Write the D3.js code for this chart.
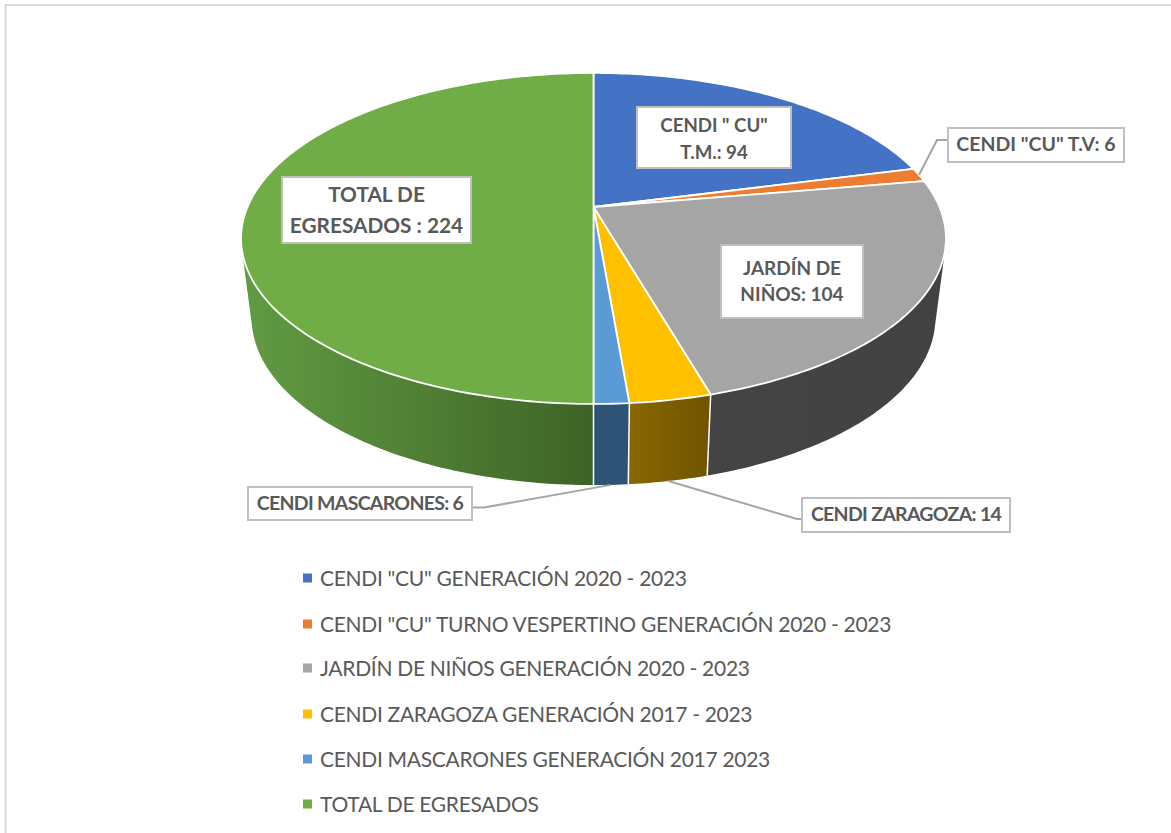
<!DOCTYPE html>
<html>
<head>
<meta charset="utf-8">
<script src="https://cdn.jsdelivr.net/npm/d3@7"></script>
<style>
    html, body { margin: 0; padding: 0; background: #fff; }
    svg { display: block; }
    text { font-family: Lato, "Open Sans", sans-serif; fill: #595959; }
    .label { font-weight: 700; text-anchor: middle; }
    .legend { font-size: 21px; letter-spacing: -0.3px; }
</style>
</head>
<body>
<svg id="chart" width="1171" height="833"></svg>
<script>

// Data /////////////////////////////////////////

const seriesNames = [
    'CENDI "CU" GENERACIÓN 2020 - 2023',
    'CENDI "CU" TURNO VESPERTINO GENERACIÓN 2020 - 2023',
    "JARDÍN DE NIÑOS GENERACIÓN 2020 - 2023",
    "CENDI ZARAGOZA GENERACIÓN 2017 - 2023",
    "CENDI MASCARONES GENERACIÓN 2017 2023",
    "TOTAL DE EGRESADOS"
];
const values = [94, 6, 104, 14, 6, 224];
const labelNames = [
    ['CENDI " CU"', "T.M.: "],
    ['CENDI "CU" T.V: '],
    ["JARDÍN DE", "NIÑOS: "],
    ["CENDI ZARAGOZA: "],
    ["CENDI MASCARONES: "],
    ["TOTAL DE", "EGRESADOS : "]
];

// Styles and layout ////////////////////////////

const topColors = ["#4472c4", "#ed7d31", "#a5a5a5", "#ffc000", "#5b9bd5", "#70ad47"];
const wallStart = ["#294474", "#8e4b1d", "#444444", "#8a6800", "#2f5375", "#609a42"];
const wallEnd = ["#294474", "#8e4b1d", "#424242", "#705400", "#2f5375", "#3e6326"];

const labelBoxes = [
    { x: 637, y: 107, w: 154, h: 61, gap: 27, size: 18.7, spacing: 0, nudge: 2 },
    { x: 948, y: 128, w: 176, h: 34, gap: 0, size: 19.5, spacing: 0, nudge: 0 },
    { x: 721, y: 245, w: 142, h: 73, gap: 26, size: 19, spacing: 0, nudge: 0 },
    { x: 802, y: 498, w: 208, h: 34, gap: 0, size: 19.5, spacing: -0.7, nudge: 0 },
    { x: 248, y: 487, w: 224, h: 33, gap: 0, size: 19.5, spacing: -0.7, nudge: 0 },
    { x: 282, y: 177, w: 189, h: 66, gap: 31, size: 20.8, spacing: 0, nudge: 1 }
];
// index of slice -> side of the box the leader leaves from, and which rim it touches
const leaders = [
    { slice: 1, elbowX: 937, side: "left", rim: "top" },
    { slice: 3, elbowX: 797, side: "left", rim: "bottom" },
    { slice: 4, elbowX: 484, side: "right", rim: "bottom" }
];

const legendY = [578, 624, 668, 714, 759, 804];

// Pie in perspective ///////////////////////////

const cx = 593.5;
const persp = { a: 346, b: 120.2, c: 207, k: -0.19 };
const rim = { sx: 0.97, sy: 1.01, midTop: 238.5, midBottom: 318 };

function projectTop(angle) {
    const u = Math.sin(angle), v = -Math.cos(angle);
    const w = 1 + persp.k * v;
    return [cx + persp.a * u / w, (persp.b * v + persp.c) / w];
}

function projectBottom(angle) {
    const [x, y] = projectTop(angle);
    return [cx + (x - cx) * rim.sx, rim.midBottom + (y - rim.midTop) * rim.sy];
}

function sampleArc(d, project) {
    const n = Math.max(2, Math.ceil((d.endAngle - d.startAngle) * 60));
    return d3.range(n + 1).map(i => project(d.startAngle + (d.endAngle - d.startAngle) * i / n));
}

const svg = d3.select("#chart");
const defs = svg.append("defs");
const line = d3.line();

const arcs = d3.pie().sort(null)(values);

// Frame ////////////////////////////////////////

svg.append("path")
    .attr("d", "M5.5,833V5H1171")
    .attr("fill", "none")
    .attr("stroke", "#d9d9d9")
    .attr("stroke-width", 2);

// Walls ////////////////////////////////////////

arcs.forEach((d, i) => {
    const pts = sampleArc(d, projectBottom);
    const x0 = d3.min(pts, p => p[0]), x1 = d3.max(pts, p => p[0]);
    const grad = defs.append("linearGradient")
        .attr("id", "wall" + i)
        .attr("gradientUnits", "userSpaceOnUse")
        .attr("x1", x0).attr("x2", x1)
        .attr("y1", 0).attr("y2", 0);
    grad.append("stop").attr("offset", 0).attr("stop-color", wallStart[i]);
    grad.append("stop").attr("offset", 1).attr("stop-color", wallEnd[i]);
});

// a wall is one path of small quads, all wound the same way so overlaps at the
// sides don't cancel and the silhouette stays straight
function wallPath(d) {
    const a = sampleArc(d, projectTop), b = sampleArc(d, projectBottom);
    return d3.range(a.length - 1).map(j => {
        const q = [a[j], a[j + 1], b[j + 1], b[j]];
        if (d3.polygonArea(q) < 0) q.reverse();
        return line(q) + "Z";
    }).join("");
}

svg.append("g").selectAll("path")
    .data(arcs)
    .join("path")
    .attr("d", wallPath)
    .attr("fill", (d, i) => `url(#wall${i})`);

// seams between the walls that face the front
svg.append("g").selectAll("line")
    .data(arcs.filter(d => Math.cos(d.endAngle) < 0))
    .join("line")
    .attr("x1", d => projectTop(d.endAngle)[0])
    .attr("y1", d => projectTop(d.endAngle)[1])
    .attr("x2", d => projectBottom(d.endAngle)[0])
    .attr("y2", d => projectBottom(d.endAngle)[1])
    .attr("stroke", "#fff")
    .attr("stroke-width", 1.5);

// Top face /////////////////////////////////////

svg.append("g").selectAll("path")
    .data(arcs)
    .join("path")
    .attr("d", d => line([[cx, persp.c]].concat(sampleArc(d, projectTop))) + "Z")
    .attr("fill", (d, i) => topColors[i])
    .attr("stroke", "#fff")
    .attr("stroke-width", 1.8)
    .attr("stroke-linejoin", "round");

// Leader lines /////////////////////////////////

svg.append("g").selectAll("path")
    .data(leaders)
    .join("path")
    .attr("d", l => {
        const d = arcs[l.slice];
        const mid = (d.startAngle + d.endAngle) / 2;
        const box = labelBoxes[l.slice];
        const anchor = (l.rim === "top" ? projectTop : projectBottom)(mid);
        const y = box.y + box.h / 2 - (l.rim === "top" ? 5 : -4);
        const edge = l.side === "left" ? box.x : box.x + box.w;
        return line([anchor, [l.elbowX, y], [edge, y]]);
    })
    .attr("fill", "none")
    .attr("stroke", "#a6a6a6")
    .attr("stroke-width", 2);

// Data labels //////////////////////////////////

const labels = svg.append("g").selectAll("g")
    .data(arcs)
    .join("g")
    .attr("transform", (d, i) => `translate(${labelBoxes[i].x}, ${labelBoxes[i].y})`);

labels.append("rect")
    .attr("width", (d, i) => labelBoxes[i].w)
    .attr("height", (d, i) => labelBoxes[i].h)
    .attr("fill", "#fff")
    .attr("stroke", "#bfbfbf")
    .attr("stroke-width", 2);

labels.each(function(d, i) {
    const box = labelBoxes[i];
    const lines = labelNames[i].slice();
    lines[lines.length - 1] += d.value;
    const top = box.h / 2 + 6 + box.nudge - (lines.length - 1) * box.gap / 2;
    d3.select(this).selectAll("text")
        .data(lines)
        .join("text")
        .attr("class", "label")
        .attr("x", box.w / 2)
        .attr("y", (t, j) => top + j * box.gap)
        .style("font-size", box.size + "px")
        .style("letter-spacing", box.spacing + "px")
        .text(t => t);
});

// Legend ///////////////////////////////////////

const legend = svg.append("g").selectAll("g")
    .data(seriesNames)
    .join("g")
    .attr("transform", (d, i) => `translate(303, ${legendY[i]})`);

legend.append("rect")
    .attr("y", -4.5)
    .attr("width", 9)
    .attr("height", 9)
    .attr("fill", (d, i) => topColors[i]);

legend.append("text")
    .attr("class", "legend")
    .attr("x", 17)
    .attr("y", 8)
    .text(d => d);

</script>
</body>
</html>
